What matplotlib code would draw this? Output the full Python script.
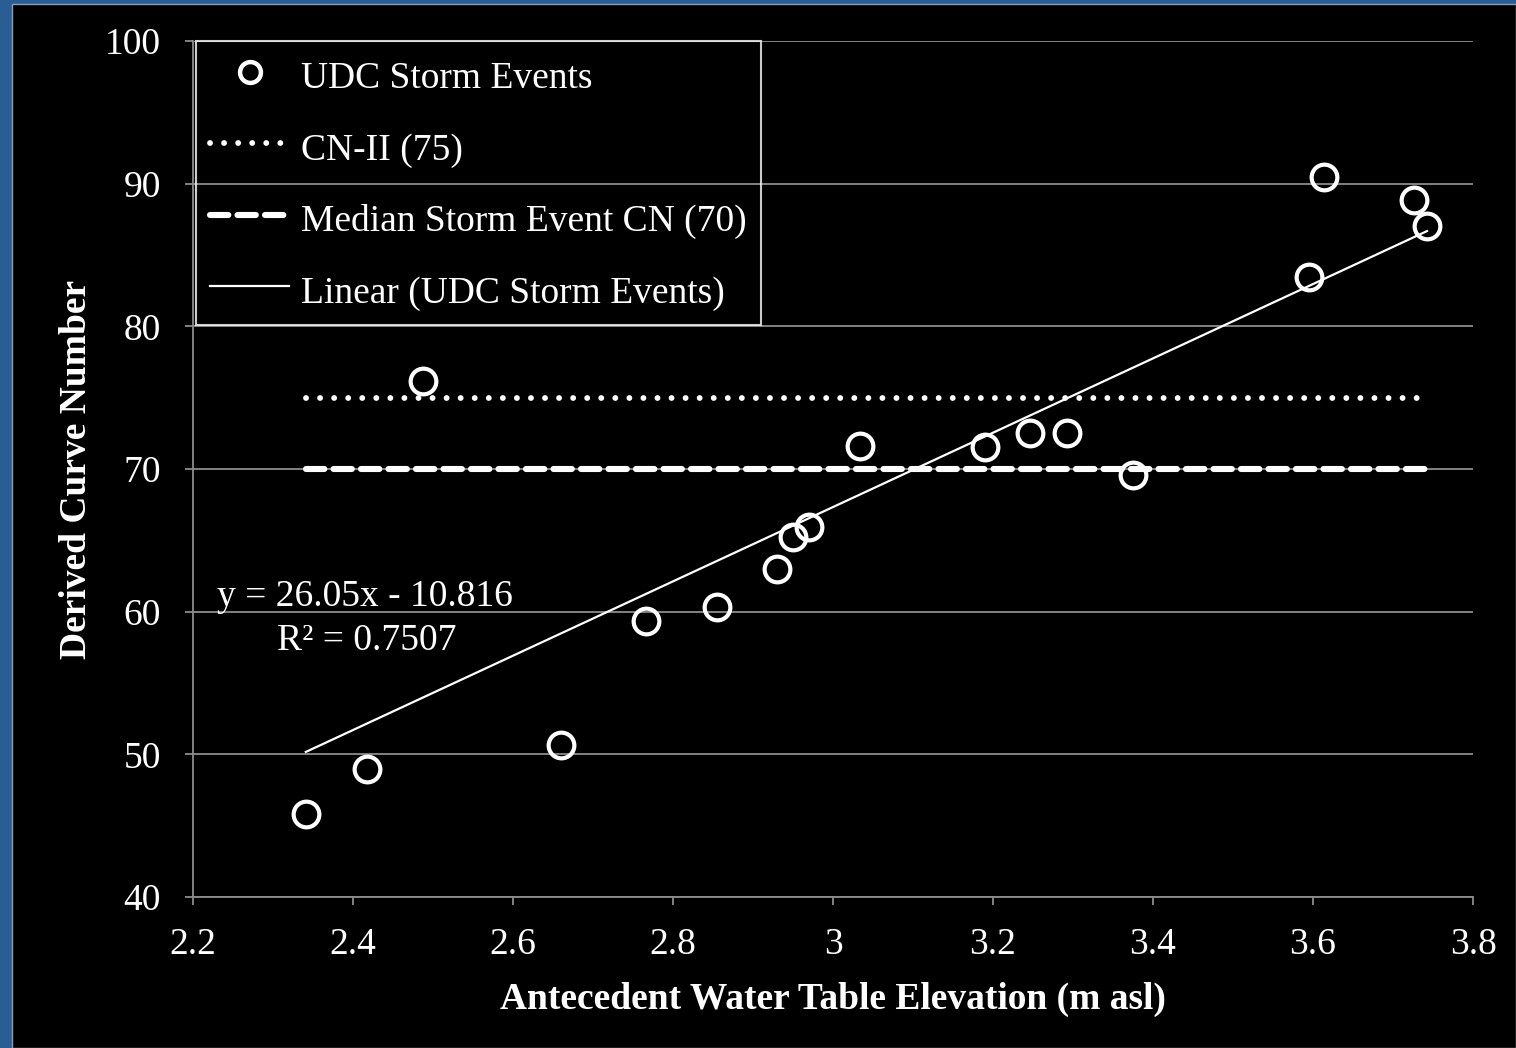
import matplotlib
matplotlib.use("Agg")
import matplotlib.pyplot as plt
import numpy as np
from matplotlib.patches import Rectangle
from matplotlib.lines import Line2D

# Antecedent water table elevation (m asl) and derived curve number per storm event
water_table = [2.341, 2.4175, 2.4875, 2.66, 2.766, 2.855, 2.93, 2.95, 2.97,
               3.034, 3.19, 3.246, 3.2925, 3.375, 3.595, 3.614, 3.726, 3.7425]
curve_number = [45.8, 49.0, 76.2, 50.65, 59.35, 60.3, 63.0, 65.2, 65.9,
                71.6, 71.55, 72.5, 72.5, 69.6, 83.45, 90.47, 88.85, 87.0]

cn_ii = 75
median_cn = 70
slope, intercept = 26.05, -10.816
r_squared = 0.7507

x_ticks = [2.2, 2.4, 2.6, 2.8, 3.0, 3.2, 3.4, 3.6, 3.8]
x_tick_labels = ["2.2", "2.4", "2.6", "2.8", "3", "3.2", "3.4", "3.6", "3.8"]
y_ticks = [40, 50, 60, 70, 80, 90, 100]

plt.rcParams['font.family'] = ['Liberation Serif', 'DejaVu Serif']
FS = 27

W, H = 1516, 1048
fig = plt.figure(figsize=(W / 100, H / 100), dpi=100, facecolor='#2b5d95')
# black slide panel inside the blue frame
fig.patches.append(Rectangle((12 / W, 0), 1 - 12 / W, 1 - 4 / H, transform=fig.transFigure,
                             facecolor='black', edgecolor='#9a9a9a', linewidth=1.0, zorder=-5))

ax = fig.add_axes([193 / W, 151 / H, 1280 / W, 856 / H])
ax.set_zorder(2)
ax.set_facecolor('black')

grid_c = '#8c8c8c'
ax.set_xlim(2.2, 3.8)
ax.set_ylim(40, 100)
ax.set_xticks(x_ticks)
ax.set_xticklabels(x_tick_labels)
ax.set_yticks(y_ticks)
ax.yaxis.grid(True, color=grid_c, linewidth=1.3, zorder=0)
ax.set_axisbelow(True)
for s in ['top', 'right']:
    ax.spines[s].set_visible(False)
for s in ['left', 'bottom']:
    ax.spines[s].set_color(grid_c)
    ax.spines[s].set_linewidth(1.3)
ax.tick_params(axis='both', colors=grid_c, labelcolor='white', labelsize=FS,
               direction='out', length=6, width=1.3)
ax.tick_params(axis='x', pad=16)
ax.tick_params(axis='y', pad=17)

x_min, x_max = min(water_table), max(water_table)

dot_style = (0, (0.01, 2.4))
dash_style = (0, (3.0, 1.5))

# reference lines over the observed range
ax.plot([x_min, x_max], [cn_ii, cn_ii], color='white', linewidth=4.2,
        linestyle=dot_style, dash_capstyle='round', zorder=3)
ax.plot([x_min, x_max], [median_cn, median_cn], color='white', linewidth=4.4,
        linestyle=dash_style, dash_capstyle='round', zorder=3)

# linear fit
fit_x = np.array([x_min, x_max])
ax.plot(fit_x, slope * fit_x + intercept, color='white', linewidth=1.6, zorder=4)

ax.plot(water_table, curve_number, linestyle='none', marker='o', markersize=18.5,
        markerfacecolor='none', markeredgecolor='white', markeredgewidth=3.0, zorder=5)

ax.text(2.23, 60.4, f"y = {slope}x - {abs(intercept)}", color='white', fontsize=FS,
        ha='left', va='baseline', zorder=6)
ax.text(2.305, 57.3, f"R² = {r_squared}", color='white', fontsize=FS,
        ha='left', va='baseline', zorder=6)

ax.set_xlabel("Antecedent Water Table Elevation (m asl)", color='white',
              fontsize=FS, fontweight='bold', labelpad=14)
ax.set_ylabel("Derived Curve Number", color='white', fontsize=FS,
              fontweight='bold', labelpad=8)

handles = [
    Line2D([], [], linestyle='none', marker='o', markersize=15, markerfacecolor='none',
           markeredgecolor='white', markeredgewidth=3.2),
    Line2D([], [], color='white', linewidth=4.2, linestyle=dot_style,
           dash_capstyle='round'),
    Line2D([], [], color='white', linewidth=4.4, linestyle=dash_style,
           dash_capstyle='round'),
    Line2D([], [], color='white', linewidth=1.6),
]
labels = ["UDC Storm Events", "CN-II (75)", "Median Storm Event CN (70)",
          "Linear (UDC Storm Events)"]
leg = ax.legend(handles, labels, loc='upper left', bbox_to_anchor=(196 / W, 1 - 41 / H),
                bbox_transform=fig.transFigure, borderaxespad=0, frameon=True,
                fancybox=False, fontsize=FS, labelcolor='white', handlelength=2.1,
                handleheight=1.3, handletextpad=0.32, labelspacing=0.81, borderpad=0.38)
leg.get_frame().set_facecolor('none')
leg.get_frame().set_edgecolor('white')
leg.get_frame().set_linewidth(1.5)
leg.set_zorder(7)

fig.savefig("out.png", dpi=100, facecolor=fig.get_facecolor())
